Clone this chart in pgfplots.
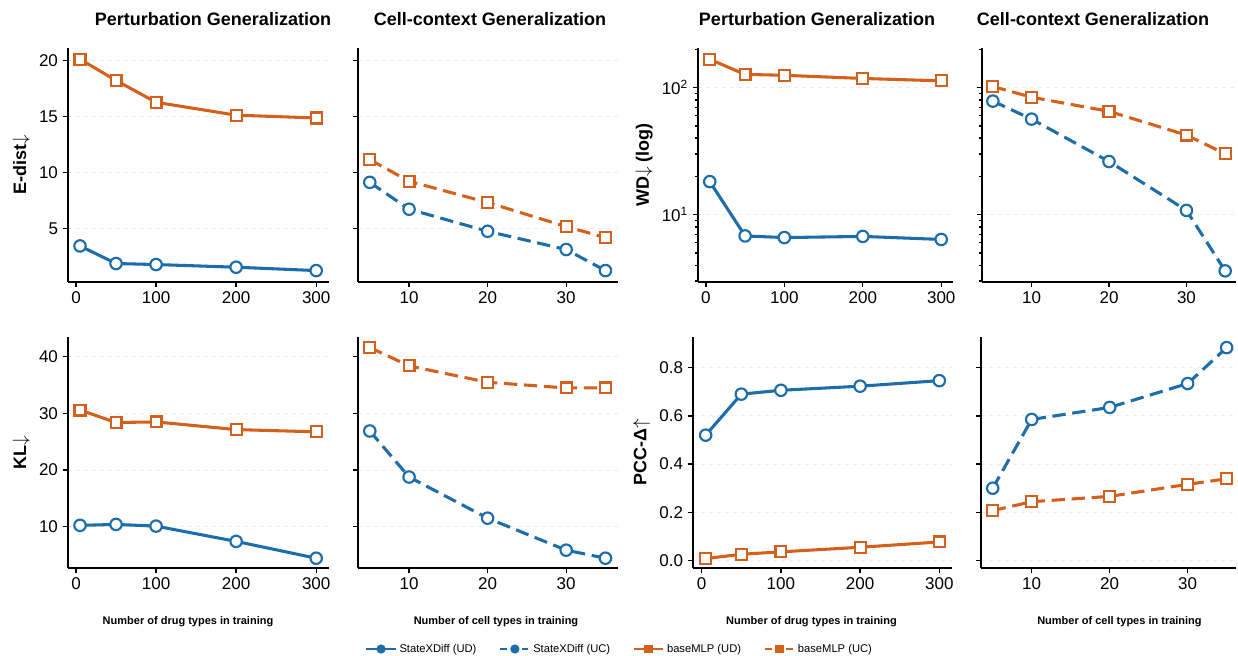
\documentclass[border=0pt]{standalone}
\usepackage{fontspec}
\setmainfont{Liberation Sans}
\usepackage{pgfplots}
\pgfplotsset{compat=1.18}

\definecolor{cblue}{HTML}{1C6DAA}
\definecolor{corange}{HTML}{D4601C}

\pgfplotsset{
  panel/.style={
    scale only axis,
    axis x line*=bottom, axis y line*=left,
    axis line style={line width=1.1pt, -},
    tick align=outside,
    major tick length=4pt, minor tick length=2.5pt,
    every tick/.style={black, line width=1pt},
    tick label style={font=\fontsize{12.75}{14}\selectfont},
    ylabel style={font=\bfseries\fontsize{13.5}{15}\selectfont},
    ymajorgrids,
    grid style={dashed, gray!15, line width=0.6pt},
    /pgf/number format/assume math mode=true,
    clip=false,
  },
  edrange/.style={height=175.5pt, ymin=0.2, ymax=21.1},
  klrange/.style={height=173.25pt, ymin=2.7, ymax=43.5, ytick={10,20,30,40}},
  wdrange/.style={height=175.5pt, ymin=2.95, ymax=205,
    ytick={10,100}, minor ytick={3,4,5,6,7,8,9,20,30,40,50,60,70,80,90,200}},
  pccrange/.style={height=173.25pt, ymin=-0.031, ymax=0.927,
    ytick={0,0.2,0.4,0.6,0.8},
    yticklabel style={/pgf/number format/.cd, fixed, fixed zerofill, precision=1}},
  drugx/.style={xtick={0,100,200,300}},
  cellx/.style={xtick={10,20,30}},
  sxd/.style={cblue, line width=2.3pt, mark=*, mark size=4.3pt,
    mark options={solid, fill=white, line width=1.6pt}},
  mlp/.style={corange, line width=2.3pt, mark=square*, mark size=4.1pt,
    mark options={solid, fill=white, line width=1.6pt}},
  uc/.style={dash pattern=on 10pt off 5pt},
}

\begin{document}
\begin{tikzpicture}
\path[use as bounding box] (0,0) rectangle (928.5pt,-492pt);

% titles and x labels
\node[font=\bfseries\fontsize{13.5}{16}\selectfont, anchor=base] at (159.75pt,-19.5pt) {Perturbation Generalization};
\node[font=\bfseries\fontsize{13.5}{16}\selectfont, anchor=base] at (367.5pt,-19.5pt) {Cell-context Generalization};
\node[font=\bfseries\fontsize{13.5}{16}\selectfont, anchor=base] at (612.75pt,-19.5pt) {Perturbation Generalization};
\node[font=\bfseries\fontsize{13.5}{16}\selectfont, anchor=base] at (819.75pt,-19.5pt) {Cell-context Generalization};
\node[font=\bfseries\fontsize{8.25}{10}\selectfont, anchor=base] at (141pt,-468.4pt) {Number of drug types in training};
\node[font=\bfseries\fontsize{8.25}{10}\selectfont, anchor=base] at (372pt,-468.4pt) {Number of cell types in training};
\node[font=\bfseries\fontsize{8.25}{10}\selectfont, anchor=base] at (608.6pt,-468.4pt) {Number of drug types in training};
\node[font=\bfseries\fontsize{8.25}{10}\selectfont, anchor=base] at (839.6pt,-468.4pt) {Number of cell types in training};

% E-dist, drugs
\begin{axis}[panel, edrange, drugx, at={(51pt,-36pt)}, anchor=north west,
  width=195.75pt, xmin=-10, xmax=316, ytick={5,10,15,20},
  ylabel={E-dist$\downarrow$}]
\addplot[sxd] coordinates {(5,3.42) (50,1.85) (100,1.76) (200,1.52) (300,1.22)};
\addplot[mlp] coordinates {(5,20.1) (50,18.2) (100,16.25) (200,15.1) (300,14.85)};
\end{axis}

% E-dist, cells
\begin{axis}[panel, edrange, cellx, at={(268.5pt,-36pt)}, anchor=north west,
  width=195pt, xmin=3.5, xmax=36.6, ytick={5,10,15,20}, yticklabels={}]
\addplot[sxd, uc] coordinates {(5,9.1) (10,6.7) (20,4.73) (30,3.1) (35,1.22)};
\addplot[mlp, uc] coordinates {(5,11.13) (10,9.2) (20,7.3) (30,5.15) (35,4.17)};
\end{axis}

% WD, drugs
\begin{axis}[ymode=log, panel, wdrange, drugx, at={(523.5pt,-36pt)}, anchor=north west,
  width=191.25pt, xmin=-10, xmax=315,
  yticklabels={10\textsuperscript{1},10\textsuperscript{2}},
  ylabel={WD$\downarrow$ (log)}]
\addplot[sxd] coordinates {(5,18.2) (50,6.8) (100,6.6) (200,6.74) (300,6.38)};
\addplot[mlp] coordinates {(5,167) (50,127) (100,125) (200,118) (300,113)};
\end{axis}

% WD, cells
\begin{axis}[ymode=log, panel, wdrange, cellx, at={(736.5pt,-36pt)}, anchor=north west,
  width=190.5pt, xmin=3.6, xmax=36.4, yticklabels={}]
\addplot[sxd, uc] coordinates {(5,78.3) (10,56.5) (20,26.2) (30,10.8) (35,3.61)};
\addplot[mlp, uc] coordinates {(5,102) (10,84) (20,65) (30,42.3) (35,30.1)};
\end{axis}

% KL, drugs
\begin{axis}[panel, klrange, drugx, at={(51pt,-252.75pt)}, anchor=north west,
  width=195.75pt, xmin=-10, xmax=316, ylabel={KL$\downarrow$}]
\addplot[sxd] coordinates {(5,10.23) (50,10.4) (100,10.1) (200,7.4) (300,4.43)};
\addplot[mlp] coordinates {(5,30.6) (50,28.4) (100,28.5) (200,27.15) (300,26.75)};
\end{axis}

% KL, cells
\begin{axis}[panel, klrange, cellx, at={(268.5pt,-252.75pt)}, anchor=north west,
  width=195pt, xmin=3.5, xmax=36.6, yticklabels={}]
\addplot[sxd, uc] coordinates {(5,26.9) (10,18.77) (20,11.5) (30,5.85) (35,4.43)};
\addplot[mlp, uc] coordinates {(5,41.65) (10,38.4) (20,35.5) (30,34.5) (35,34.5)};
\end{axis}

% PCC, drugs
\begin{axis}[panel, pccrange, drugx, at={(519.75pt,-252.75pt)}, anchor=north west,
  width=194.25pt, xmin=-11, xmax=316, ylabel={PCC-Δ$\uparrow$}]
\addplot[sxd] coordinates {(5,0.52) (50,0.69) (100,0.706) (200,0.723) (300,0.746)};
\addplot[mlp] coordinates {(5,0.008) (50,0.026) (100,0.036) (200,0.055) (300,0.077)};
\end{axis}

% PCC, cells
\begin{axis}[panel, pccrange, cellx, at={(735.75pt,-252.75pt)}, anchor=north west,
  width=191.25pt, xmin=3.5, xmax=36.2, yticklabels={}]
\addplot[sxd, uc] coordinates {(5,0.30) (10,0.585) (20,0.635) (30,0.734) (35,0.883)};
\addplot[mlp, uc] coordinates {(5,0.207) (10,0.244) (20,0.266) (30,0.316) (35,0.339)};
\end{axis}

% shared legend
\begin{axis}[hide axis, scale only axis, width=10pt, height=10pt,
  at={(465pt,-486.75pt)}, anchor=center,
  xmin=0, xmax=1, ymin=0, ymax=1,
  legend columns=4,
  legend cell align=left,
  legend image code/.code={\draw[mark repeat=2, mark phase=2, #1] plot coordinates {(0pt,0pt) (11pt,0pt) (22pt,0pt)};},
  legend style={at={(0.5,0.5)}, anchor=center, draw=none, fill=none,
    font=\fontsize{8.4}{10}\selectfont,
    /tikz/every even column/.append style={column sep=15pt}}]
\addlegendimage{cblue, line width=1.6pt, mark=*, mark size=2.6pt, mark options={solid, fill=cblue}}
\addlegendentry{StateXDiff (UD)}
\addlegendimage{cblue, line width=1.6pt, dash pattern=on 5pt off 3pt, mark=*, mark size=2.6pt, mark options={solid, fill=cblue}}
\addlegendentry{StateXDiff (UC)}
\addlegendimage{corange, line width=1.6pt, mark=square*, mark size=2.4pt, mark options={solid, fill=corange}}
\addlegendentry{baseMLP (UD)}
\addlegendimage{corange, line width=1.6pt, dash pattern=on 5pt off 3pt, mark=square*, mark size=2.4pt, mark options={solid, fill=corange}}
\addlegendentry{baseMLP (UC)}
\end{axis}
\end{tikzpicture}
\end{document}
